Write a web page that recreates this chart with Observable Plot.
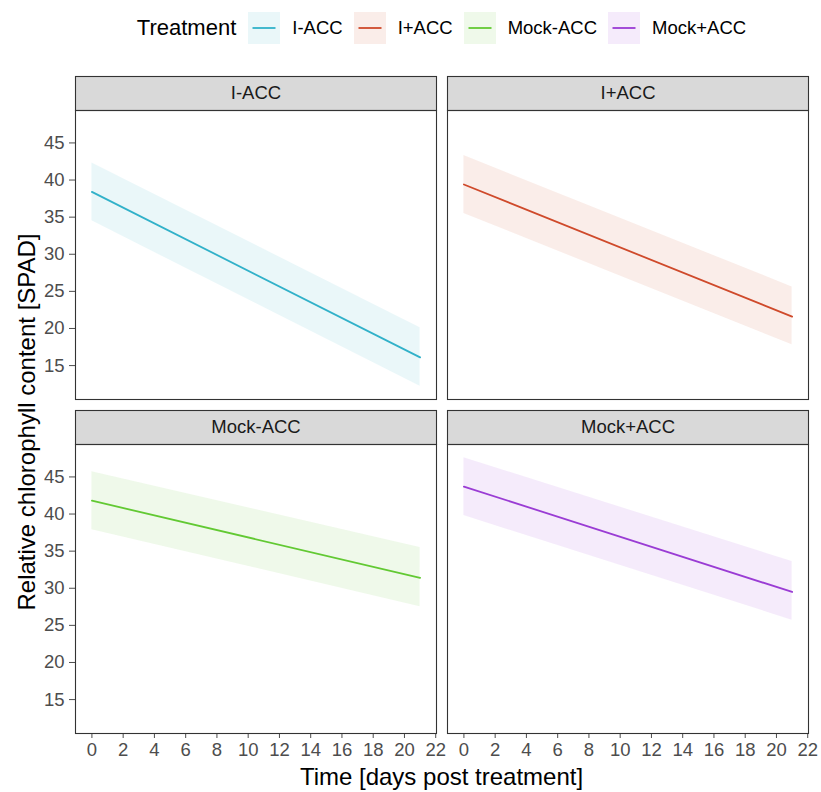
<!DOCTYPE html>
<html>
<head>
<meta charset="utf-8">
<script src="https://cdn.jsdelivr.net/npm/d3@7"></script>
<script src="https://cdn.jsdelivr.net/npm/@observablehq/plot@0.6"></script>
<style>
  html, body { margin: 0; padding: 0; background: #fff; }
  #chart { position: relative; width: 821px; height: 792px; font-family: "Liberation Sans", Arial, sans-serif; }
  #legend { position: absolute; top: 0; left: 75px; width: 733px; height: 56px;
            display: flex; align-items: center; justify-content: center; color: #000; }
  #legend .title { font-size: 22px; margin-right: 12px; }
  #legend .key { display: block; margin-right: 12px; }
  #legend .lab { font-size: 18.5px; margin-right: 11px; }
  #legend .lab:last-child { margin-right: 0; }
  #plot { position: absolute; top: 56px; left: 0; }
  #titles { position: absolute; top: 0; left: 0; pointer-events: none; }
</style>
</head>
<body>
<div id="chart">
  <div id="legend"></div>
  <div id="plot"></div>
  <svg id="titles" width="821" height="792"></svg>
</div>
<script>
// Fitted linear trends of SPAD readings over 21 days, with confidence bands
const treatments = ["I-ACC", "I+ACC", "Mock-ACC", "Mock+ACC"];
const colors = ["#31b1c9", "#cf4a2b", "#62c933", "#9a3cd4"];
const days = [0, 21];
const fitStart = [38.4, 39.4, 41.8, 43.7];
const fitEnd = [16.1, 21.6, 31.4, 29.5];
const lowerStart = [34.5, 35.5, 37.9, 39.8];
const lowerEnd = [12.2, 17.8, 27.5, 25.7];
const upperStart = [42.3, 43.3, 45.7, 47.6];
const upperEnd = [20.1, 25.6, 35.5, 33.6];
const xTicks = [0, 2, 4, 6, 8, 10, 12, 14, 16, 18, 20, 22];
const yTicks = [15, 20, 25, 30, 35, 40, 45];

// One row per treatment and day; panels laid out two per row
const rows = treatments.flatMap((t, i) => [
  {treatment: t, day: days[0], fit: fitStart[i], lower: lowerStart[i], upper: upperStart[i], col: i % 2, row: Math.floor(i / 2)},
  {treatment: t, day: days[1], fit: fitEnd[i], lower: lowerEnd[i], upper: upperEnd[i], col: i % 2, row: Math.floor(i / 2)}
]);

// Axis ranges padded by 5% as in the usual ggplot expansion
const xExt = [0, 21];
const yExt = [d3.min(lowerEnd.concat(lowerStart)), d3.max(upperStart.concat(upperEnd))];
const pad = (e) => [e[0] - 0.05 * (e[1] - e[0]), e[1] + 0.05 * (e[1] - e[0])];

const stripH = 34;
const panelH = 289;

const chart = Plot.plot({
  width: 821,
  height: 736,
  marginLeft: 75,
  marginRight: 13,
  marginTop: 54,
  marginBottom: 59,
  style: {fontFamily: "'Liberation Sans', Arial, sans-serif", fontSize: "18.5px", color: "#4d4d4d", background: "white"},
  facet: {data: rows, x: "col", y: "row"},
  fx: {axis: null, domain: [0, 1], paddingInner: 11 / 372, paddingOuter: 0},
  fy: {axis: null, domain: [0, 1], paddingInner: 45 / 334, paddingOuter: 0},
  x: {domain: pad(xExt), ticks: xTicks, tickSize: 5, tickPadding: 4, label: null},
  y: {domain: pad(yExt), ticks: yTicks, tickSize: 6, tickPadding: 5, label: null},
  color: {domain: treatments, range: colors},
  marks: [
    Plot.frame({fill: "#d9d9d9", stroke: "#333", strokeWidth: 1.1, insetTop: -stripH, insetBottom: panelH}),
    Plot.areaY(rows, {x: "day", y1: "lower", y2: "upper", fill: "treatment", fillOpacity: 0.1}),
    Plot.lineY(rows, {x: "day", y: "fit", stroke: "treatment", strokeWidth: 1.8}),
    Plot.frame({stroke: "#333", strokeWidth: 1.1}),
    Plot.text(rows, Plot.selectFirst({text: "treatment", frameAnchor: "top", dy: -stripH / 2, fill: "#1a1a1a", lineAnchor: "middle"}))
  ]
});
document.getElementById("plot").appendChild(chart);

// Legend: translucent band key with the trend line across it
const legend = document.getElementById("legend");
const title = document.createElement("span");
title.className = "title";
title.textContent = "Treatment";
legend.appendChild(title);
treatments.forEach((t, i) => {
  const ns = "http://www.w3.org/2000/svg";
  const key = document.createElementNS(ns, "svg");
  key.setAttribute("width", 32);
  key.setAttribute("height", 32);
  key.setAttribute("class", "key");
  const r = document.createElementNS(ns, "rect");
  r.setAttribute("width", 32); r.setAttribute("height", 32);
  r.setAttribute("fill", colors[i]); r.setAttribute("fill-opacity", 0.1);
  const l = document.createElementNS(ns, "line");
  l.setAttribute("x1", 4.5); l.setAttribute("x2", 27.5);
  l.setAttribute("y1", 16); l.setAttribute("y2", 16);
  l.setAttribute("stroke", colors[i]); l.setAttribute("stroke-width", 1.8);
  key.appendChild(r); key.appendChild(l);
  legend.appendChild(key);
  const lab = document.createElement("span");
  lab.className = "lab";
  lab.textContent = t;
  legend.appendChild(lab);
});

// Axis titles
const titles = d3.select("#titles");
titles.append("text")
  .attr("x", 441.5).attr("y", 785)
  .attr("text-anchor", "middle")
  .attr("font-size", 24)
  .attr("fill", "#000")
  .text("Time [days post treatment]");
titles.append("text")
  .attr("transform", "translate(35,422) rotate(-90)")
  .attr("text-anchor", "middle")
  .attr("font-size", 24)
  .attr("fill", "#000")
  .text("Relative chlorophyll content [SPAD]");
</script>
</body>
</html>
